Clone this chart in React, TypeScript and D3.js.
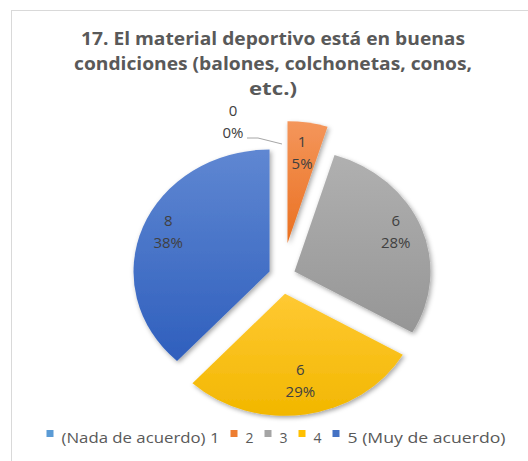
import React from 'react';
import * as d3 from 'd3';

// ---- data ----
const titleLines = [
  '17. El material deportivo está en buenas',
  'condiciones (balones, colchonetas, conos,',
  'etc.)',
];
const categories = ['(Nada de acuerdo) 1', '2', '3', '4', '5 (Muy de acuerdo)'];
const values = [0, 1, 6, 6, 8];
const percentLabels = ['0%', '5%', '28%', '29%', '38%'];

// ---- styles ----
const legendColors = ['#5B9BD5', '#ED7D31', '#A5A5A5', '#FFC000', '#4472C4'];
const gradTop = ['#6AA6DB', '#F4965B', '#B0B0B0', '#FFC933', '#5F87D2'];
const gradBottom = ['#4E8CC6', '#EA7020', '#969696', '#F2B700', '#2F5FBD'];
const explode = [33, 33, 12, 18, 12];
const labelFrac = [0.8, 0.72, 0.8, 0.76, 0.8];
const titleWidths = [384, 398, 48];
const legendTextWidths = [158, 0, 0, 0, 158];

const W = 528;
const H = 461;
const cx = 282;
const cy = 276;
const ry = 122;
const sx = 1.115;

export default function App() {
  const pie = d3.pie<number>().sort(null).value((d) => d);
  const arcs = pie(values);
  const arcGen = d3.arc<d3.PieArcDatum<number>>().innerRadius(0).outerRadius(ry);

  const slices = arcs.map((a, i) => {
    const mid = (a.startAngle + a.endAngle) / 2;
    const ox = cx + sx * explode[i] * Math.sin(mid);
    const oy = cy - explode[i] * Math.cos(mid);
    const lr = explode[i] + labelFrac[i] * ry;
    const lx = cx + sx * lr * Math.sin(mid);
    const ly = cy - lr * Math.cos(mid);
    return { a, i, mid, ox, oy, lx, ly };
  });

  // legend layout
  const sq = 7;
  const gapSq = 8;
  const gapItem = 11;
  const digitW = 8;
  const itemW = categories.map((c, i) => sq + gapSq + (legendTextWidths[i] || digitW));
  const totalLegend = itemW.reduce((s, w) => s + w, 0) + gapItem * (categories.length - 1);
  let lx0 = 276 - totalLegend / 2;
  const legendItems = categories.map((c, i) => {
    const x = lx0;
    lx0 += itemW[i] + gapItem;
    return { c, i, x };
  });
  const legendBase = 442.5;

  const font = "'Open Sans', 'DejaVu Sans', sans-serif";

  return (
    <svg
      width={W}
      height={H}
      style={{ position: 'absolute', left: 0, top: 0, background: '#fff' }}
      fontFamily={font}
    >
      <defs>
        {slices.map(({ i }) => (
          <linearGradient key={i} id={`g${i}`} x1="0" y1="0" x2="0" y2="1">
            <stop offset="0" stopColor={gradTop[i]} />
            <stop offset="1" stopColor={gradBottom[i]} />
          </linearGradient>
        ))}
        <filter id="shadow" x="-20%" y="-20%" width="140%" height="140%">
          <feDropShadow dx="1.5" dy="2" stdDeviation="2.2" floodColor="#000" floodOpacity="0.35" />
        </filter>
      </defs>
      <rect x={0} y={0} width={W} height={H} fill="#fff" />
      <rect x={11.5} y={10.5} width={W + 20} height={H + 20} fill="#fff" stroke="#D9D9D9" />

      {titleLines.map((t, k) => (
        <text
          key={k}
          x={273}
          y={45 + k * 25}
          textAnchor="middle"
          fontSize={17}
          fontWeight="bold"
          fill="#595959"
          textLength={titleWidths[k]}
          lengthAdjust="spacingAndGlyphs"
        >
          {t}
        </text>
      ))}

      {slices.map(({ a, i, ox, oy }) =>
        a.value > 0 ? (
          <g key={i} transform={`translate(${ox},${oy}) scale(${sx},1)`}>
            <path d={arcGen(a) || ''} fill={`url(#g${i})`} filter="url(#shadow)" />
          </g>
        ) : null
      )}

      {slices.map(({ a, i, mid, lx, ly }) => {
        if (a.value > 0) {
          return (
            <g key={i} fontSize={15} fill="#404040" textAnchor="middle">
              <text x={lx} y={ly - 10}>{values[i]}</text>
              <text x={lx} y={ly + 12}>{percentLabels[i]}</text>
            </g>
          );
        }
        const er = ry + 10;
        const ex = cx + sx * er * Math.sin(mid);
        const ey = cy - er * Math.cos(mid);
        const elx = ex - 24;
        const ely = ey - 6;
        const tx = elx - 25;
        return (
          <g key={i}>
            <polyline
              points={`${elx - 11},${ely} ${elx},${ely} ${ex},${ey}`}
              fill="none"
              stroke="#A6A6A6"
              strokeWidth={1}
            />
            <g fontSize={15} fill="#404040" textAnchor="middle">
              <text x={tx} y={ely - 22}>{values[i]}</text>
              <text x={tx} y={ely}>{percentLabels[i]}</text>
            </g>
          </g>
        );
      })}

      {legendItems.map(({ c, i, x }) => (
        <g key={i}>
          <rect x={x} y={legendBase - 12.5} width={sq} height={sq} fill={legendColors[i]} />
          <text
            x={x + sq + gapSq}
            y={legendBase}
            fontSize={14}
            fill="#595959"
            {...(legendTextWidths[i]
              ? { textLength: legendTextWidths[i], lengthAdjust: 'spacingAndGlyphs' }
              : {})}
          >
            {c}
          </text>
        </g>
      ))}
    </svg>
  );
}
